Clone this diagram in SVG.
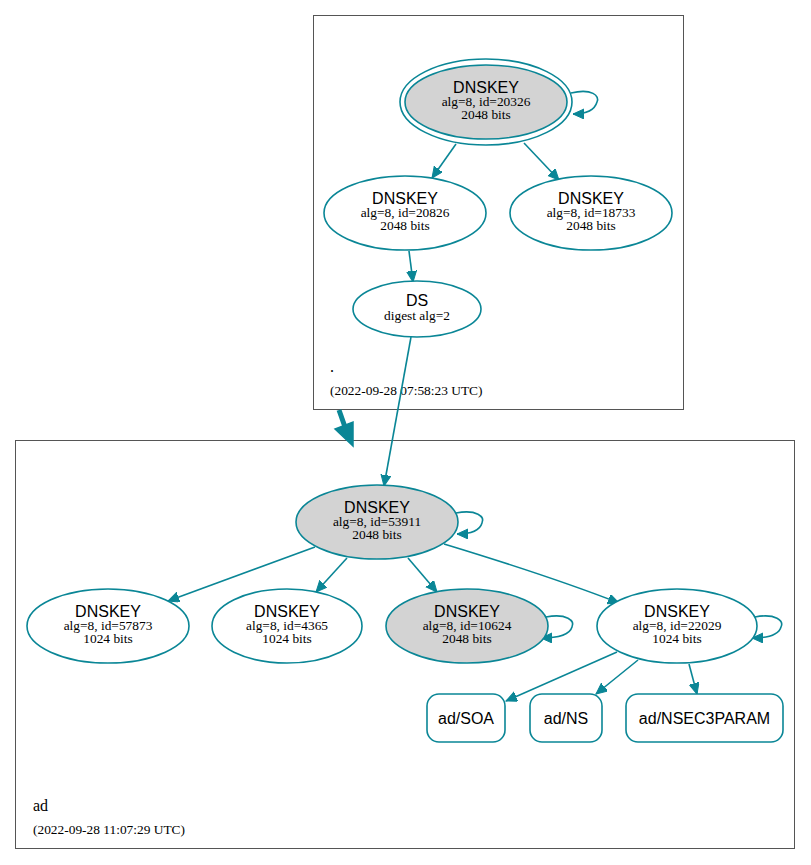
<svg xmlns="http://www.w3.org/2000/svg" width="811" height="865" viewBox="0 0 811 865">
<defs>
<style>
.cl{fill:#fff;stroke:#555;stroke-width:1}
.n{fill:#fff;stroke:#0a8696;stroke-width:1.6}
.g{fill:#d3d3d3}
.e{fill:none;stroke:#0a8696;stroke-width:1.6}
.t1{font-family:"Liberation Sans",Arial,sans-serif;font-size:16px;fill:#000;text-anchor:middle}
.t2{font-family:"Liberation Serif","Times New Roman",serif;font-size:13.4px;fill:#000;text-anchor:middle}
.tc{font-family:"Liberation Serif","Times New Roman",serif;fill:#000}
</style>
<marker id="a" markerUnits="userSpaceOnUse" markerWidth="14" markerHeight="12" refX="11" refY="5" orient="auto" viewBox="0 0 14 12">
<path d="M0,0 L11,5 L0,10 Z" fill="#0a8696" stroke="#0a8696" stroke-width="1"/>
</marker>
</defs>
<rect width="811" height="865" fill="#fff"/>
<g id="cluster-root">
<rect class="cl" x="313.5" y="15.5" width="370" height="394"/>
<text class="tc" x="330" y="372" font-size="16">.</text>
<text class="tc" x="330" y="395" font-size="13.4">(2022-09-28 07:58:23 UTC)</text>
</g>
<g id="cluster-ad">
<rect class="cl" x="15.5" y="440.5" width="779" height="408"/>
<text class="tc" x="33" y="811" font-size="16">ad</text>
<text class="tc" x="33" y="834" font-size="13.4">(2022-09-28 11:07:29 UTC)</text>
</g>
<g id="edges">
<path class="e" d="M571,93 C592,88 600,96 597,102 C595,109 587,114 573,114" marker-end="url(#a)"/>
<path class="e" d="M456,144 L432,178" marker-end="url(#a)"/>
<path class="e" d="M524,143 L559,180" marker-end="url(#a)"/>
<path class="e" d="M409,251 L413,282" marker-end="url(#a)"/>
<path class="e" d="M411,337 L384,486" marker-end="url(#a)"/>
<path fill="none" stroke="#0a8696" stroke-width="5" d="M339,410 L345,427"/>
<path fill="#0a8696" stroke="#0a8696" stroke-width="1.5" d="M335,429 L353,446 L353,422 Z"/>
<path class="e" d="M456,513 C477,509 485,517 482,523 C480,530 471,534 457,534" marker-end="url(#a)"/>
<path class="e" d="M315,547 L168,601" marker-end="url(#a)"/>
<path class="e" d="M347,558 L316,592" marker-end="url(#a)"/>
<path class="e" d="M408,558 L437,592" marker-end="url(#a)"/>
<path class="e" d="M444,544 C500,561 560,580 619,603" marker-end="url(#a)"/>
<path class="e" d="M546,617 C567,613 575,621 572,627 C570,634 561,638 541,638" marker-end="url(#a)"/>
<path class="e" d="M755,617 C776,613 784,621 781,627 C779,634 770,638 752,638" marker-end="url(#a)"/>
<path class="e" d="M617,652 L506,701" marker-end="url(#a)"/>
<path class="e" d="M638,660 L596,694" marker-end="url(#a)"/>
<path class="e" d="M689,664 L697,694" marker-end="url(#a)"/>
</g>
<g id="dnskey-20326">
<ellipse class="n" cx="486" cy="102" rx="86" ry="43"/>
<ellipse class="n g" cx="486" cy="102" rx="81" ry="37"/>
<text class="t1" x="486" y="92.5">DNSKEY</text>
<text class="t2" x="486" y="105.5">alg=8, id=20326</text>
<text class="t2" x="486" y="119">2048 bits</text>
</g>
<g id="dnskey-20826">
<ellipse class="n" cx="405" cy="213" rx="81" ry="37"/>
<text class="t1" x="405" y="203.5">DNSKEY</text>
<text class="t2" x="405" y="216.5">alg=8, id=20826</text>
<text class="t2" x="405" y="230">2048 bits</text>
</g>
<g id="dnskey-18733">
<ellipse class="n" cx="591" cy="213" rx="81" ry="37"/>
<text class="t1" x="591" y="203.5">DNSKEY</text>
<text class="t2" x="591" y="216.5">alg=8, id=18733</text>
<text class="t2" x="591" y="230">2048 bits</text>
</g>
<g id="ds">
<ellipse class="n" cx="417" cy="309" rx="64" ry="28"/>
<text class="t1" x="417" y="306">DS</text>
<text class="t2" x="417" y="319.5">digest alg=2</text>
</g>
<g id="dnskey-53911">
<ellipse class="n g" cx="377" cy="522" rx="81" ry="37"/>
<text class="t1" x="377" y="512.5">DNSKEY</text>
<text class="t2" x="377" y="525.5">alg=8, id=53911</text>
<text class="t2" x="377" y="539">2048 bits</text>
</g>
<g id="dnskey-57873">
<ellipse class="n" cx="108" cy="626" rx="81" ry="37"/>
<text class="t1" x="108" y="616.5">DNSKEY</text>
<text class="t2" x="108" y="629.5">alg=8, id=57873</text>
<text class="t2" x="108" y="643">1024 bits</text>
</g>
<g id="dnskey-4365">
<ellipse class="n" cx="287" cy="626" rx="75" ry="37"/>
<text class="t1" x="287" y="616.5">DNSKEY</text>
<text class="t2" x="287" y="629.5">alg=8, id=4365</text>
<text class="t2" x="287" y="643">1024 bits</text>
</g>
<g id="dnskey-10624">
<ellipse class="n g" cx="467" cy="626" rx="81" ry="37"/>
<text class="t1" x="467" y="616.5">DNSKEY</text>
<text class="t2" x="467" y="629.5">alg=8, id=10624</text>
<text class="t2" x="467" y="643">2048 bits</text>
</g>
<g id="dnskey-22029">
<ellipse class="n" cx="677" cy="626" rx="80" ry="37"/>
<text class="t1" x="677" y="616.5">DNSKEY</text>
<text class="t2" x="677" y="629.5">alg=8, id=22029</text>
<text class="t2" x="677" y="643">1024 bits</text>
</g>
<g id="ad-soa">
<rect class="n" x="427" y="694" width="78" height="48" rx="12"/>
<text class="t1" x="466" y="724">ad/SOA</text>
</g>
<g id="ad-ns">
<rect class="n" x="530" y="694" width="72" height="48" rx="12"/>
<text class="t1" x="566" y="724">ad/NS</text>
</g>
<g id="ad-nsec3param">
<rect class="n" x="626" y="694" width="157" height="48" rx="12"/>
<text class="t1" x="704.5" y="724">ad/NSEC3PARAM</text>
</g>
</svg>
